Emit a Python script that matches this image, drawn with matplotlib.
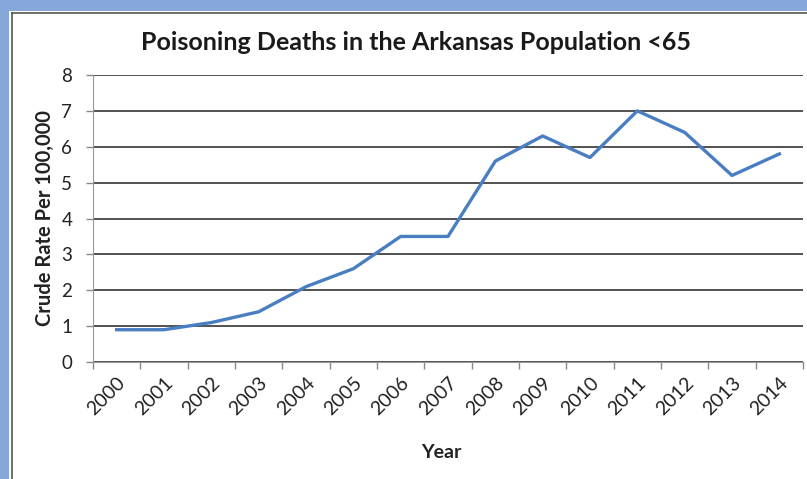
import matplotlib
matplotlib.use("Agg")
import matplotlib.pyplot as plt
from matplotlib.patches import Rectangle

years = ["2000", "2001", "2002", "2003", "2004", "2005", "2006", "2007",
         "2008", "2009", "2010", "2011", "2012", "2013", "2014"]
rates = [0.9, 0.9, 1.1, 1.4, 2.1, 2.6, 3.5, 3.5, 5.6, 6.3, 5.7, 7.0, 6.4, 5.2, 5.8]
yticks = [0, 1, 2, 3, 4, 5, 6, 7, 8]

W, H = 807, 479
fig = plt.figure(figsize=(W / 100, H / 100), dpi=100)
fig.patch.set_facecolor("white")

# scanned-frame border
fig.patches.append(Rectangle((0, 1 - 11 / H), 1, 11 / H, transform=fig.transFigure,
                             facecolor="#86a7d9", edgecolor="none", zorder=0))
fig.patches.append(Rectangle((0, 0), 9 / W, 1, transform=fig.transFigure,
                             facecolor="#86a7d9", edgecolor="none", zorder=0))
fig.add_artist(plt.Line2D([12 / W, 12 / W], [0, 1 - 13 / H], transform=fig.transFigure,
                          color="#555555", lw=1.2))
fig.add_artist(plt.Line2D([12 / W, 1], [1 - 13 / H, 1 - 13 / H], transform=fig.transFigure,
                          color="#555555", lw=1.2))

ax = fig.add_axes([93 / W, 1 - 362 / H, (803 - 93) / W, (362 - 75) / H])
x = list(range(len(years)))
ax.plot(x, rates, color="#4a7ec2", lw=2.4, zorder=3)

ax.set_xlim(-0.5, len(years) - 0.5)
ax.set_ylim(0, 8)
ax.set_yticks(yticks)
ax.set_yticklabels([str(v) for v in yticks], fontsize=13.5, family="Lato", color="#222222")
ax.set_xticks(x)
ax.set_xticklabels(years, rotation=45, ha="right", va="top", rotation_mode="anchor",
                   fontsize=14, family="Lato", color="#222222")
ax.tick_params(axis="x", length=0, pad=9)
ax.set_xticks([i - 0.5 for i in range(len(years) + 1)], minor=True)
ax.tick_params(axis="x", which="minor", length=5, color="#888888", width=1)
ax.tick_params(axis="y", length=5, color="#888888", width=1, pad=10)

ax.grid(axis="y", color="#222222", lw=1.1)
ax.set_axisbelow(True)
for s in ["top", "right"]:
    ax.spines[s].set_visible(False)
ax.spines["left"].set_color("#999999")
ax.spines["bottom"].set_color("#999999")

ax.set_ylabel("Crude Rate Per 100,000", fontsize=14.5, family="Lato", fontweight="bold",
              color="#222222", va="center")
ax.yaxis.set_label_coords((45 - 93) / (803 - 93), 0.50)
fig.text(441 / W, 1 - 453 / H, "Year", ha="center", va="center", fontsize=14,
         family="Lato", fontweight="bold", color="#222222")
fig.text(416 / W, 1 - 42 / H, "Poisoning Deaths in the Arkansas Population <65",
         ha="center", va="center", fontsize=18, family="Lato", fontweight="bold",
         color="#1a1a1a")

fig.savefig("out.png", dpi=100, facecolor="white")
